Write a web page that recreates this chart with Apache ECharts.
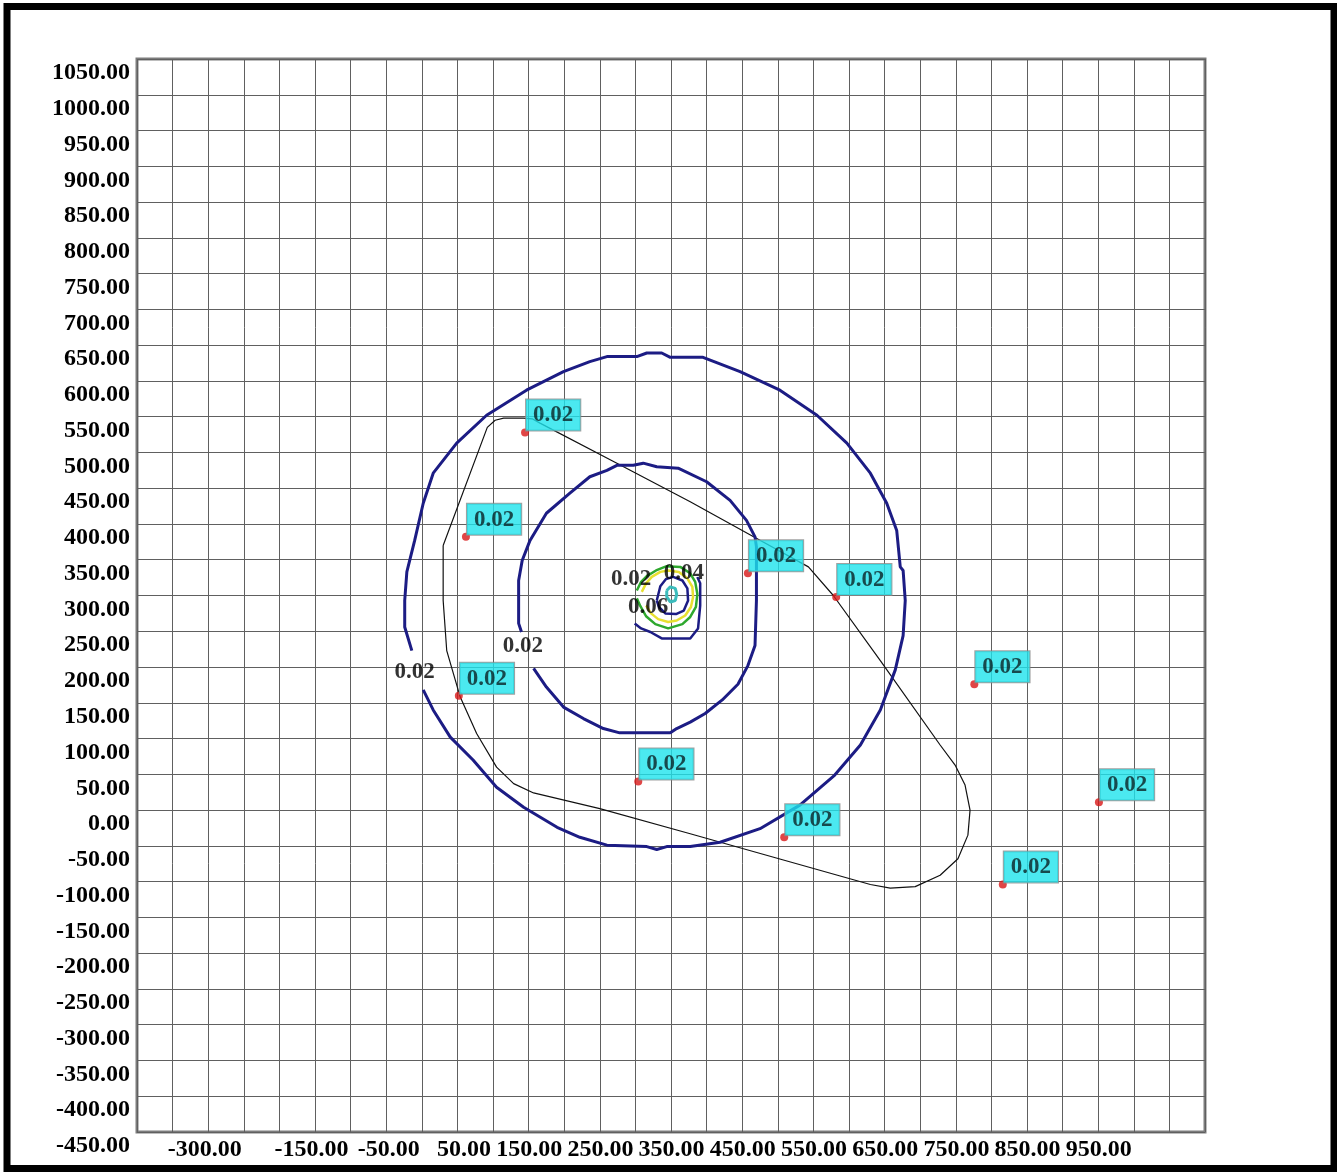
<!DOCTYPE html>
<html>
<head>
<meta charset="utf-8">
<script src="https://cdn.jsdelivr.net/npm/echarts@6/dist/echarts.min.js"></script>
<style>
  html, body { margin: 0; padding: 0; background: #ffffff; }
  #chart { width: 1337px; height: 1174px; }
</style>
</head>
<body>
<div id="chart"></div>
<script>
// Axis tick labels
const xTickLabels = [-300, -150, -50, 50, 150, 250, 350, 450, 550, 650, 750, 850, 950];
const yTickLabels = [-450, -400, -350, -300, -250, -200, -150, -100, -50, 0, 50, 100, 150, 200, 250,
                     300, 350, 400, 450, 500, 550, 600, 650, 700, 750, 800, 850, 900, 950, 1000, 1050];

// Large 0.02 concentration contour (outer ring), opened where its label sits
const outerContour = [
  [-48,168],[-34,140],[-10,102],[22,70],[55,32],[93,4],[140,-24],[172,-38],[210,-49],[266,-51],
  [280,-55],[294,-51],[327,-51],[369,-45],[425,-26],[481,7],[530,49],[566,91],[594,140],[615,196],
  [626,244],[629,293],[626,335],[622,340],[617,391],[603,429],[580,471],[547,513],[505,552],[453,587],
  [397,613],[345,633],[299,633],[287,639],[266,639],[252,634],[210,634],[186,627],[149,613],[97,587],
  [41,552],[-1,513],[-34,471],[-48,429],[-60,377],[-71,333],[-74,293],[-74,256],[-64,223]
];

// Inner ring contour
const innerContour = [
  [107,198],[125,172],[149,144],[177,128],[205,114],[228,108],[299,108],[308,114],[327,123],[348,135],
  [372,154],[394,176],[408,202],[418,230],[420,293],[420,368],[418,382],[406,405],[383,433],[350,459],
  [310,478],[280,480],[261,485],[247,482],[224,482],[210,475],[186,466],[158,443],[125,415],[102,377],
  [91,349],[86,321],[86,293],[86,261],[90,249]
];

// Boundary loop (thin black)
const boundaryLoop = [
  [-20,370],[42,535],[53,545],[65,548],[93,548],[105,547],[116,541],[224,485],[327,431],[416,382],
  [493,340],[528,300],[594,209],[678,91],[699,63],[713,35],[720,0],[717,-35],[703,-68],[678,-91],
  [643,-107],[608,-109],[580,-104],[327,-33],[200,2],[107,24],[79,37],[55,60],[27,107],[4,158],
  [-15,223],[-20,293],[-20,370]
];

// Small contours around the source
const coreNavyOuter = [[249,261],[258,254],[271,249],[287,240],[327,240],[338,254],[341,286],[341,317],[337,326]];
const coreGreen = [[252,307],[258,319],[266,327],[279,335],[294,341],[313,340],[327,331],[334,319],[337,302],
                   [335,284],[327,270],[316,260],[296,254],[278,260],[265,271],[257,285],[252,296]];
const coreYellow = [[259,305],[265,317],[273,326],[285,333],[296,335],[311,333],[323,324],[330,312],[331,298],
                    [328,284],[320,272],[308,265],[296,263],[282,267],[272,275],[265,286]];
const coreNavyInner = [[280,293],[285,313],[293,323],[303,326],[316,321],[323,310],[324,293],[318,279],
                       [307,274],[292,275],[283,284],[280,293]];
const coreCyan = [[294,307],[299,312],[306,310],[308,302],[306,293],[299,291],[294,298],[294,307]];

// Receptor points: x, y, concentration
const receptorX = [95, 12, 408, 532, 726, 2, 254, 901, 459, 766];
const receptorY = [528, 382, 331, 298, 176, 160, 40, 11, -38, -104];
const receptorValue = [0.02, 0.02, 0.02, 0.02, 0.02, 0.02, 0.02, 0.02, 0.02, 0.02];

// Contour level labels
const contourLabelX = [-60, 92, 244, 318, 268];
const contourLabelY = [193, 229, 323, 331, 284];
const contourLabelText = ['0.02', '0.02', '0.02', '0.04', '0.06'];

const serif = "'Liberation Serif', 'Times New Roman', serif";

function contourSeries(data, color, width, z) {
  return {
    type: 'line', data: data, symbol: 'none', showSymbol: false, smooth: false,
    lineStyle: { color: color, width: width }, silent: true, z: z
  };
}

const chart = echarts.init(document.getElementById('chart'), null, { renderer: 'canvas' });

chart.setOption({
  animation: false,
  backgroundColor: '#ffffff',
  grid: {
    left: 137, top: 59, right: 132, bottom: 42,
    show: true, borderColor: '#7c7c7c', borderWidth: 3, backgroundColor: 'transparent',
    containLabel: false, outerBoundsMode: 'none'
  },
  xAxis: {
    type: 'value', min: -450, max: 1050, interval: 50,
    axisLine: { show: false }, axisTick: { show: false },
    splitLine: { show: true, lineStyle: { color: '#606060', width: 1 } },
    axisLabel: {
      show: true, margin: 6, align: 'right', padding: [0, 2, 0, 0],
      fontFamily: serif, fontWeight: 'bold', fontSize: 24, lineHeight: 24, color: '#000000',
      showMinLabel: true, showMaxLabel: true,
      formatter: v => xTickLabels.includes(v) ? v.toFixed(2) : ''
    }
  },
  yAxis: {
    type: 'value', min: -450, max: 1050, interval: 50,
    axisLine: { show: false }, axisTick: { show: false },
    splitLine: { show: true, lineStyle: { color: '#606060', width: 1 } },
    axisLabel: {
      show: true, margin: 7, align: 'right', verticalAlign: 'top', padding: [2, 0, 0, 0],
      fontFamily: serif, fontWeight: 'bold', fontSize: 24, lineHeight: 24, color: '#000000',
      showMinLabel: true, showMaxLabel: true,
      formatter: v => yTickLabels.includes(v) ? v.toFixed(2) : ''
    }
  },
  graphic: [{
    type: 'rect', silent: true, z: 100,
    shape: { x: 7, y: 6.5, width: 1327, height: 1162 },
    style: { fill: 'none', stroke: '#000000', lineWidth: 7 }
  }],
  series: [
    contourSeries(boundaryLoop, '#111111', 1.2, 3),
    contourSeries(outerContour, '#1c1c84', 3, 4),
    contourSeries(innerContour, '#1c1c84', 3, 4),
    contourSeries(coreNavyOuter, '#1c1c84', 2.5, 4),
    contourSeries(coreGreen, '#2ea82e', 2.5, 4),
    contourSeries(coreYellow, '#e8e030', 2.5, 4),
    contourSeries(coreNavyInner, '#1c1c84', 2.5, 4),
    contourSeries(coreCyan, '#3cbcbc', 3, 4),
    {
      type: 'scatter', silent: true, z: 6,
      data: contourLabelX.map((x, i) => ({ value: [x, contourLabelY[i]], name: contourLabelText[i] })),
      symbolSize: 1, itemStyle: { color: 'transparent' },
      label: {
        show: true, position: 'inside', formatter: p => p.name,
        fontFamily: serif, fontWeight: 'bold', fontSize: 23, color: '#000000'
      }
    },
    {
      type: 'scatter', silent: true, z: 8,
      data: receptorX.map((x, i) => [x, receptorY[i], receptorValue[i]]),
      symbol: 'circle', symbolSize: 8,
      itemStyle: { color: '#d81818' },
      label: {
        show: true, position: [5, 2], align: 'left', verticalAlign: 'bottom',
        formatter: p => p.value[2].toFixed(2),
        fontFamily: serif, fontWeight: 'bold', fontSize: 23, lineHeight: 24, color: '#0a2224',
        backgroundColor: '#1ee4ec', borderColor: '#8a8a8a', borderWidth: 1,
        padding: [4, 7, 3, 7]
      }
    }
  ]
});
</script>
</body>
</html>
